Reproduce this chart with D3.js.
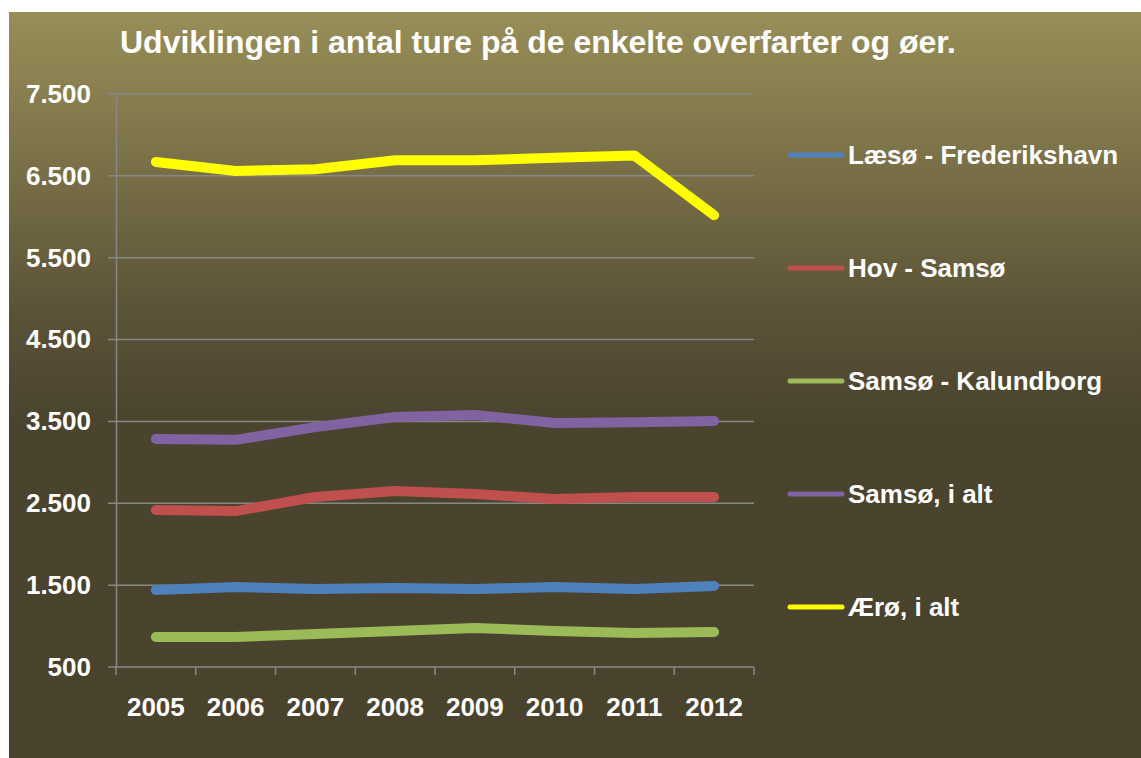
<!DOCTYPE html>
<html>
<head>
<meta charset="utf-8">
<script src="https://cdn.jsdelivr.net/npm/d3@7"></script>
<style>
  body { margin: 0; background: #fff; }
  svg { display: block; font-family: "Liberation Sans", Arial, sans-serif; }
</style>
</head>
<body>
<svg id="chart" width="1141" height="758"></svg>
<script>
const years = ['2005', '2006', '2007', '2008', '2009', '2010', '2011', '2012'];
const laesoFrederikshavn = [1441, 1477, 1453, 1465, 1453, 1477, 1453, 1490];
const hovSamso = [2418, 2405, 2577, 2650, 2613, 2552, 2577, 2577];
const samsoKalundborg = [866, 866, 903, 940, 976, 940, 915, 928];
const samsoIAlt = [3285, 3275, 3430, 3555, 3580, 3480, 3490, 3505];
const aeroIAlt = [6670, 6560, 6580, 6690, 6690, 6720, 6750, 6020];
const yTicks = [500, 1500, 2500, 3500, 4500, 5500, 6500, 7500];

const series = [
  { name: 'Læsø - Frederikshavn', color: '#4f81bd', values: laesoFrederikshavn },
  { name: 'Hov - Samsø', color: '#c0504d', values: hovSamso },
  { name: 'Samsø - Kalundborg', color: '#9bbb59', values: samsoKalundborg },
  { name: 'Samsø, i alt', color: '#8064a2', values: samsoIAlt },
  { name: 'Ærø, i alt', color: '#ffff00', values: aeroIAlt }
];

const svg = d3.select('#chart');
const labelSize = 26;

// background panel with vertical gradient
const grad = svg.append('defs').append('linearGradient')
  .attr('id', 'bg').attr('x1', 0).attr('y1', 0).attr('x2', 0).attr('y2', 1);
grad.append('stop').attr('offset', '0%').attr('stop-color', '#988e58');
grad.append('stop').attr('offset', '20%').attr('stop-color', '#7b7148');
grad.append('stop').attr('offset', '40%').attr('stop-color', '#5b5338');
grad.append('stop').attr('offset', '55%').attr('stop-color', '#4a432e');
grad.append('stop').attr('offset', '100%').attr('stop-color', '#49422d');

svg.append('rect')
  .attr('x', 9).attr('y', 12).attr('width', 1132).attr('height', 746)
  .attr('fill', 'url(#bg)');

const plot = { left: 116, right: 754, top: 94, bottom: 667 };

const x = d3.scaleBand().domain(years).range([plot.left, plot.right]);
const y = d3.scaleLinear().domain([500, 7500]).range([plot.bottom, plot.top]);

// gridlines
svg.append('g')
  .selectAll('line')
  .data(yTicks)
  .join('line')
  .attr('x1', plot.left - 8).attr('x2', plot.right)
  .attr('y1', d => y(d)).attr('y2', d => y(d))
  .attr('stroke', '#878787').attr('stroke-width', 1.5);

// y axis
svg.append('g')
  .attr('transform', `translate(${plot.left},0)`)
  .call(d3.axisLeft(y).tickValues(yTicks).tickSize(0).tickPadding(25)
    .tickFormat(d => d3.format(',')(d).replace(',', '.')))
  .call(g => g.select('.domain').attr('stroke', '#878787').attr('stroke-width', 1.5))
  .call(g => g.selectAll('text')
    .attr('fill', '#fff').attr('font-size', labelSize).attr('font-weight', 'bold')
    .attr('font-family', '"Liberation Sans", Arial, sans-serif'));

// x axis
const xTickPos = d3.range(years.length + 1).map(i => plot.left + i * x.step());
svg.append('g')
  .selectAll('line')
  .data(xTickPos)
  .join('line')
  .attr('x1', d => d).attr('x2', d => d)
  .attr('y1', plot.bottom).attr('y2', plot.bottom + 8)
  .attr('stroke', '#878787').attr('stroke-width', 1.5);

svg.append('g')
  .attr('transform', `translate(0,${plot.bottom})`)
  .call(d3.axisBottom(x).tickSize(0).tickPadding(31))
  .call(g => g.select('.domain').remove())
  .call(g => g.selectAll('text')
    .attr('fill', '#fff').attr('font-size', labelSize).attr('font-weight', 'bold')
    .attr('font-family', '"Liberation Sans", Arial, sans-serif'));

// lines
const line = d3.line()
  .x((d, i) => x(years[i]) + x.bandwidth() / 2)
  .y(d => y(d));

svg.append('g')
  .selectAll('path')
  .data(series)
  .join('path')
  .attr('d', d => line(d.values))
  .attr('fill', 'none')
  .attr('stroke', d => d.color)
  .attr('stroke-width', 10)
  .attr('stroke-linecap', 'round')
  .attr('stroke-linejoin', 'round');

// legend
const legend = svg.append('g')
  .selectAll('g')
  .data(series)
  .join('g')
  .attr('transform', (d, i) => `translate(788,${155 + i * 113})`);

legend.append('line')
  .attr('x1', 2).attr('x2', 54)
  .attr('stroke', d => d.color).attr('stroke-width', 5)
  .attr('stroke-linecap', 'round');

legend.append('text')
  .attr('x', 60).attr('dy', '0.36em')
  .attr('fill', '#fff').attr('font-size', labelSize).attr('font-weight', 'bold')
  .text(d => d.name);

// title
svg.append('text')
  .attr('x', 120).attr('y', 53)
  .attr('fill', '#fff').attr('font-size', 32).attr('font-weight', 'bold')
  .text('Udviklingen i antal ture på de enkelte overfarter og øer.');
</script>
</body>
</html>
